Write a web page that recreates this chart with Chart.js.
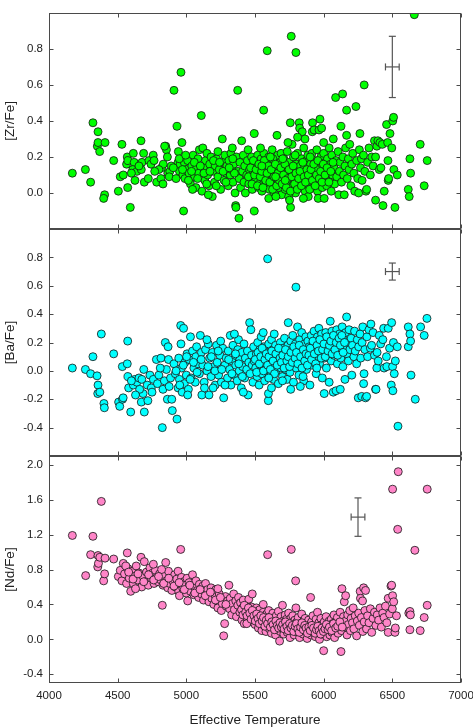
<!DOCTYPE html>
<html>
<head>
<meta charset="utf-8">
<title>[X/Fe] vs effective temperature</title>
<script src="https://cdn.jsdelivr.net/npm/chart.js@4.4.1/dist/chart.umd.min.js"></script>
<style>
  html, body { margin: 0; padding: 0; background: #fff; overflow: hidden; }
  #wrap { position: relative; width: 473px; height: 727px; overflow: hidden; }
  canvas { position: absolute; left: 0; top: 0; }
</style>
</head>
<body>
<div id="wrap">
  <canvas id="zr-chart" width="480" height="727"></canvas>
  <canvas id="ba-chart" width="480" height="727"></canvas>
  <canvas id="nd-chart" width="480" height="727"></canvas>
</div>
<script>
const teffTicks = [4000, 4500, 5000, 5500, 6000, 6500, 7000];
const zrTicks = [0.0, 0.2, 0.4, 0.6, 0.8];
const baTicks = [-0.4, -0.2, 0.0, 0.2, 0.4, 0.6, 0.8];
const ndTicks = [-0.4, 0.0, 0.4, 0.8, 1.2, 1.6, 2.0];

// typical uncertainty: [teff, value, +-teff, +-value]
const zrError = [6500, 0.70, 50, 0.17];
const baError = [6500, 0.70, 50, 0.06];
const ndError = [6250, 1.40, 50, 0.22];

// [Teff, abundance]
const zrStars = [
  [4170,0.11],[4265,0.13],[4303,0.06],[4320,0.39],[4357,0.34],[4352,0.26],[4357,0.28],[4369,0.23],[4408,0.28],[4405,-0.01],
  [4398,-0.03],[4471,0.18],[4505,0.01],[4519,0.09],[4541,0.10],[4531,0.27],[4570,0.20],[4565,0.16],[4575,0.18],[4573,0.03],
  [4592,-0.08],[4614,0.22],[4620,0.17],[4626,0.07],[4610,0.13],[4640,0.12],[4670,0.29],[4677,0.17],[4672,0.13],[4689,0.22],
  [4694,0.06],[4655,0.15],[4600,0.11],[4723,0.08],[4728,0.18],[4743,0.16],[4759,0.21],[4765,0.18],[4784,0.06],[4815,0.08],
  [4820,0.14],[4830,0.05],[4832,0.16],[4850,0.26],[4855,0.24],[4862,0.20],[4865,0.11],[4842,0.26],[4880,0.12],[4890,0.15],
  [4875,0.09],[4800,0.13],[4770,0.12],[4910,0.57],[4932,0.37],[4961,0.67],[4968,0.28],[4980,-0.10],[4942,0.23],[4940,0.17],
  [4950,0.12],[4955,0.16],[4975,0.10],[4985,0.17],[4990,0.08],[5000,0.13],[5010,0.18],[5020,0.11],[5030,0.05],[5040,0.15],
  [5050,0.21],[5060,0.09],[5070,0.03],[5075,0.14],[5085,0.19],[5090,0.11],[5095,0.24],[5045,0.02],[5109,0.43],[5114,0.01],
  [5120,0.25],[5125,0.14],[5135,0.07],[5140,0.18],[5150,0.22],[5155,0.10],[5165,0.04],[5170,0.16],[5180,0.20],[5189,-0.02],
  [5195,0.12],[5205,0.06],[5210,0.15],[5220,0.19],[5230,0.09],[5240,0.13],[5250,0.02],[5262,0.30],[5265,0.17],[5275,0.07],
  [5280,0.21],[5290,0.11],[5295,0.15],[5230,0.23],[5160,-0.01],[5305,0.04],[5310,0.18],[5320,0.10],[5325,0.22],[5330,0.13],
  [5340,0.06],[5345,0.16],[5355,0.00],[5359,-0.07],[5361,-0.08],[5365,0.20],[5374,0.57],[5378,0.12],[5383,-0.14],[5385,0.08],
  [5390,0.17],[5395,0.03],[5403,0.29],[5410,0.12],[5415,0.21],[5420,0.06],[5425,0.15],[5430,0.00],[5440,0.10],[5445,0.18],
  [5450,0.24],[5455,0.05],[5460,0.13],[5470,0.09],[5475,0.20],[5480,0.02],[5485,0.15],[5495,-0.10],[5495,0.33],[5490,0.11],
  [5350,0.11],[5335,0.25],[5505,0.07],[5510,0.17],[5515,0.12],[5520,0.21],[5525,0.03],[5530,0.10],[5535,0.15],[5540,0.06],
  [5545,0.19],[5550,0.01],[5555,0.12],[5560,0.08],[5563,0.46],[5565,0.22],[5570,0.14],[5575,0.04],[5580,0.10],[5585,0.17],
  [5589,0.79],[5590,0.07],[5595,0.13],[5600,0.20],[5605,0.02],[5610,0.11],[5615,0.16],[5620,0.06],[5625,0.24],[5630,0.09],
  [5635,0.14],[5640,0.00],[5645,0.18],[5650,0.05],[5655,0.12],[5660,0.32],[5660,0.08],[5665,0.21],[5670,0.15],[5675,0.03],
  [5680,0.10],[5685,0.17],[5690,0.07],[5695,-0.01],[5700,0.13],[5540,0.25],[5600,-0.03],[5630,0.19],[5690,0.22],[5705,0.05],
  [5710,0.19],[5715,0.11],[5720,0.02],[5725,0.15],[5730,0.08],[5735,0.23],[5740,0.12],[5745,-0.02],[5750,0.17],[5755,0.06],
  [5757,0.39],[5759,-0.08],[5760,0.10],[5764,0.87],[5765,0.14],[5770,0.27],[5775,0.04],[5780,0.20],[5785,0.09],[5790,0.13],
  [5795,0.00],[5798,0.78],[5800,0.16],[5805,0.07],[5810,0.22],[5815,0.11],[5820,0.03],[5822,0.39],[5825,0.36],[5830,0.15],
  [5835,0.08],[5840,0.19],[5844,0.34],[5845,0.12],[5850,0.05],[5855,0.25],[5860,0.14],[5864,0.30],[5865,0.01],[5870,0.10],
  [5875,0.18],[5880,0.07],[5885,0.21],[5888,-0.02],[5890,0.13],[5895,0.04],[5740,0.28],[5810,0.31],[5905,0.16],[5910,0.09],
  [5915,0.22],[5917,0.34],[5919,0.39],[5920,0.03],[5925,0.12],[5930,0.35],[5935,0.18],[5940,0.07],[5945,0.14],[5950,0.24],
  [5955,0.01],[5960,-0.03],[5962,0.10],[5966,0.35],[5970,0.17],[5973,0.41],[5975,0.06],[5980,0.20],[5985,0.36],[5987,0.12],
  [5990,0.03],[5995,0.15],[6000,0.22],[6004,-0.03],[6008,0.08],[6012,0.17],[6018,0.11],[6022,0.04],[6028,0.19],[6035,0.13],
  [6040,0.25],[6045,0.07],[6050,0.16],[6055,0.01],[6060,0.21],[6065,0.10],[6070,0.30],[6075,0.14],[6080,0.05],[6087,0.53],
  [6090,0.18],[6095,0.09],[6000,0.28],[6105,0.23],[6110,-0.01],[6115,0.12],[6120,0.17],[6126,0.37],[6130,0.06],[6138,0.55],
  [6140,0.20],[6145,0.10],[6150,-0.01],[6155,0.15],[6160,0.25],[6167,0.46],[6167,0.32],[6172,0.08],[6180,0.19],[6185,0.13],
  [6190,0.27],[6198,0.04],[6205,0.16],[6212,0.22],[6220,0.11],[6226,0.01],[6235,0.48],[6240,0.18],[6248,0.08],[6255,0.00],
  [6260,0.24],[6264,0.33],[6268,0.14],[6275,0.19],[6280,0.07],[6290,0.21],[6295,0.60],[6300,0.12],[6308,0.01],[6313,0.02],
  [6320,0.17],[6330,0.25],[6340,0.10],[6350,0.20],[6360,0.15],[6370,0.29],[6378,0.20],[6378,-0.04],[6387,0.26],[6395,0.29],
  [6405,0.13],[6410,0.28],[6417,0.14],[6427,0.27],[6432,-0.07],[6441,0.01],[6458,0.38],[6466,0.28],[6468,0.18],[6470,0.07],
  [6473,0.08],[6483,0.33],[6496,0.25],[6503,0.40],[6509,0.42],[6511,0.13],[6519,-0.08],[6536,0.10],[6616,0.02],[6623,-0.02],
  [6628,0.19],[6633,0.11],[6660,0.99],[6703,0.27],[6732,0.04],[6754,0.18],
  [4905,0.14],[4925,0.08],[4948,0.19],[4972,0.13],[4995,0.21],[5015,0.07],[5038,0.12],[5058,0.17],[5082,0.08],[5102,0.15],
  [5128,0.11],[5148,0.05],[5172,0.12],[5198,0.18],[5218,0.04],[5242,0.17],[5268,0.12],[5288,0.06],[5312,0.14],[5338,0.19],
  [5452,0.09],[5468,0.14],[5478,0.05],[5488,0.18],[5498,0.10],[5508,0.13],[5518,0.04],[5528,0.16],[5538,0.09],[5548,0.12],
  [5558,0.03],[5568,0.18],[5578,0.07],[5588,0.11],[5598,0.15],[5608,0.06],[5618,0.13],[5628,0.02],[5638,0.09],[5648,0.16],
  [5658,0.04],[5668,0.11],[5678,0.07],[5688,0.14],[5698,0.05],[5708,0.10],[5718,0.16],[5728,0.03],[5738,0.08],[5748,0.13],
  [5758,0.01],[5768,0.09],[5778,0.15],[5788,0.05],[5798,0.11],[5808,0.02],[5818,0.08],[5828,0.12],[5838,0.04],[5848,0.17],
  [5858,0.09],[5868,0.06],[5878,0.13],[5888,0.10],[5898,0.02],[5908,0.13],[5918,0.07],[5928,0.16],[5938,0.04],[5948,0.10],
  [5958,0.18],[5968,0.08],[5978,0.12],[5988,0.06],[5998,0.16],[6010,0.10],[6025,0.14],[6038,0.06],[6052,0.12],[6068,0.17],
  [5612,0.20],[5652,-0.02],[5702,0.19],[5752,-0.04],[5792,0.21],[5852,-0.03],[5902,0.20],[5550,0.15],[5650,0.09],[5720,0.07]
];

const baStars = [
  [4170,0.02],[4265,0.01],[4303,-0.02],[4320,0.10],[4350,-0.035],[4357,-0.10],[4355,-0.16],[4370,-0.15],[4381,0.26],[4400,-0.23],
  [4403,-0.26],[4471,0.12],[4507,-0.22],[4515,-0.25],[4534,0.03],[4535,-0.20],[4540,-0.19],[4573,0.21],[4570,0.05],[4575,-0.04],
  [4580,-0.12],[4595,-0.29],[4614,-0.10],[4625,-0.06],[4640,-0.08],[4655,-0.05],[4672,-0.22],[4676,-0.06],[4690,0.01],[4694,-0.29],
  [4685,-0.16],[4660,-0.13],[4600,-0.07],[4630,-0.17],[4715,-0.10],[4720,-0.21],[4735,-0.03],[4745,-0.12],[4760,-0.06],[4782,0.08],
  [4790,-0.09],[4800,-0.03],[4815,0.09],[4825,-0.40],[4830,-0.13],[4840,-0.07],[4847,0.20],[4855,0.01],[4862,-0.20],[4867,0.17],
  [4870,0.08],[4875,-0.11],[4885,-0.05],[4894,-0.20],[4898,-0.28],[4750,-0.15],[4810,0.02],[4910,0.05],[4920,-0.02],[4932,-0.34],
  [4940,-0.12],[4945,0.09],[4950,-0.06],[4959,0.32],[4961,0.19],[4965,0.02],[4970,-0.15],[4980,0.30],[4985,-0.09],[4990,0.06],
  [5000,-0.03],[5005,0.12],[5015,-0.13],[5020,0.08],[5030,0.24],[5035,-0.05],[5045,0.14],[5055,0.02],[5065,-0.08],[5075,0.17],
  [5085,0.05],[5095,-0.02],[5102,0.25],[5070,0.10],[5010,-0.17],[5110,0.13],[5113,-0.17],[5120,0.04],[5130,-0.08],[5140,0.15],
  [5150,0.00],[5160,0.19],[5165,-0.17],[5170,0.09],[5180,-0.04],[5190,0.13],[5200,0.03],[5210,-0.10],[5220,0.18],[5225,0.06],
  [5235,-0.03],[5245,0.11],[5255,-0.08],[5265,0.16],[5272,-0.19],[5280,0.04],[5290,0.09],[5300,-0.05],[5320,0.25],[5150,0.22],
  [5250,0.21],[5195,-0.12],[5305,0.14],[5315,0.01],[5325,-0.10],[5330,0.07],[5340,0.18],[5345,-0.03],[5355,0.11],[5360,0.04],
  [5370,-0.07],[5375,0.15],[5380,0.22],[5385,0.00],[5390,0.08],[5400,-0.12],[5405,0.13],[5410,0.03],[5420,0.19],[5425,-0.05],
  [5430,0.09],[5440,0.01],[5445,0.14],[5450,-0.17],[5455,0.06],[5461,0.34],[5465,-0.02],[5470,0.29],[5475,0.11],[5480,0.04],
  [5485,-0.08],[5490,0.17],[5495,0.07],[5350,0.26],[5415,-0.15],[5505,0.02],[5510,0.12],[5515,-0.04],[5520,0.20],[5525,0.08],
  [5530,-0.10],[5535,0.15],[5540,0.04],[5545,0.24],[5550,-0.02],[5555,0.10],[5560,0.06],[5565,0.17],[5570,-0.07],[5575,0.13],
  [5580,0.01],[5585,0.09],[5592,0.79],[5597,-0.21],[5598,-0.16],[5600,0.19],[5605,0.05],[5610,0.12],[5615,-0.03],[5620,0.22],
  [5625,0.08],[5630,0.15],[5635,-0.06],[5640,0.03],[5645,0.11],[5650,0.18],[5655,0.00],[5660,0.07],[5665,0.14],[5670,-0.09],
  [5675,0.10],[5680,0.05],[5685,0.20],[5690,0.02],[5695,0.12],[5700,-0.04],[5560,0.27],[5640,0.26],[5620,-0.12],[5705,0.16],
  [5710,0.06],[5715,0.23],[5720,0.01],[5725,0.12],[5730,0.09],[5735,-0.06],[5740,0.18],[5742,0.34],[5745,0.04],[5750,0.14],
  [5755,-0.01],[5760,0.21],[5765,0.08],[5770,0.11],[5775,0.25],[5780,-0.08],[5785,0.15],[5790,0.05],[5795,0.19],[5798,0.59],
  [5800,0.02],[5805,0.10],[5810,0.31],[5815,0.13],[5820,-0.03],[5825,0.22],[5830,0.07],[5835,0.16],[5840,0.27],[5845,0.04],
  [5850,0.12],[5855,-0.07],[5860,0.19],[5865,0.09],[5870,0.24],[5875,0.01],[5880,0.14],[5885,0.21],[5890,0.06],[5895,0.17],
  [5900,-0.10],[5760,-0.13],[5830,-0.11],[5905,0.11],[5910,0.25],[5915,0.04],[5920,0.18],[5925,0.13],[5930,0.28],[5935,0.08],
  [5940,0.21],[5945,-0.02],[5950,0.15],[5955,0.24],[5960,0.10],[5965,0.30],[5970,0.05],[5975,0.18],[5980,0.13],[5985,0.26],
  [5990,-0.05],[5995,0.20],[6004,-0.16],[6005,0.09],[6010,0.15],[6015,0.27],[6020,0.02],[6025,0.19],[6030,0.12],[6035,0.23],
  [6040,-0.08],[6048,0.35],[6050,0.16],[6055,0.07],[6060,0.28],[6065,0.20],[6070,-0.15],[6075,0.11],[6080,0.24],[6085,0.17],
  [6090,-0.14],[6095,0.29],[6100,0.05],[6105,0.21],[6110,0.14],[6115,0.26],[6121,-0.13],[6125,0.09],[6130,0.19],[6135,0.31],
  [6140,0.03],[6145,0.22],[6150,0.16],[6155,-0.06],[6160,0.27],[6167,0.38],[6170,0.12],[6175,0.20],[6180,0.07],[6185,0.29],
  [6190,0.15],[6200,0.23],[6205,-0.03],[6210,0.18],[6220,0.10],[6225,0.28],[6230,0.14],[6240,0.05],[6245,0.22],[6252,-0.19],
  [6255,0.17],[6265,0.26],[6270,0.09],[6277,-0.18],[6280,0.20],[6285,0.31],[6291,-0.09],[6294,-0.02],[6300,0.15],[6305,-0.19],
  [6313,-0.18],[6315,0.24],[6320,0.10],[6330,0.29],[6340,0.16],[6344,0.33],[6349,0.18],[6360,0.27],[6370,0.11],[6378,-0.13],
  [6381,-0.13],[6387,0.02],[6389,0.13],[6397,0.07],[6405,0.25],[6415,0.19],[6431,0.22],[6437,0.30],[6440,0.02],[6457,0.10],
  [6460,0.03],[6470,0.30],[6480,0.16],[6492,-0.10],[6495,0.34],[6502,0.03],[6504,-0.14],[6508,0.20],[6514,-0.02],[6522,0.07],
  [6536,0.17],[6541,-0.39],[6616,0.31],[6616,0.17],[6628,0.26],[6633,0.21],[6636,-0.03],[6667,-0.20],[6706,0.31],[6732,0.25],
  [6752,0.37],
  [4925,0.00],[4952,-0.10],[4978,0.04],[5002,0.10],[5028,-0.06],[5052,0.06],[5078,-0.01],[5108,0.08],[5132,-0.12],[5158,0.03],
  [5182,0.10],[5208,0.00],[5232,0.14],[5258,0.01],[5282,-0.10],[5308,0.08],[5332,-0.02],[5358,0.12],[5382,0.05],[5408,-0.04],
  [5502,0.08],[5512,-0.01],[5522,0.13],[5532,0.05],[5542,0.10],[5552,0.16],[5562,0.00],[5572,0.08],[5582,0.12],[5592,0.04],
  [5602,0.10],[5612,0.01],[5622,0.14],[5632,0.07],[5642,-0.02],[5652,0.12],[5662,0.04],[5672,0.16],[5682,0.09],[5692,0.06],
  [5702,0.11],[5712,0.02],[5722,0.15],[5732,0.07],[5742,0.10],[5752,0.03],[5762,0.13],[5772,0.06],[5782,0.17],[5792,0.09],
  [5802,0.13],[5812,0.05],[5822,0.18],[5832,0.10],[5842,0.02],[5852,0.15],[5862,0.07],[5872,0.12],[5882,0.04],[5892,0.11],
  [5902,0.16],[5912,0.08],[5922,0.21],[5932,0.12],[5942,0.05],[5952,0.18],[5962,0.14],[5972,0.22],[5982,0.09],[5992,0.15],
  [6002,0.19],[6012,0.10],[6022,0.24],[6032,0.14],[6042,0.18],[6052,0.21],[6062,0.12],[6072,0.25],[6082,0.15],[6092,0.20],
  [6102,0.11],[6112,0.23],[6122,0.18],[6132,0.25],[6142,0.13],[6152,0.20],[5600,-0.05],[5700,-0.07],[5850,-0.04],[5950,0.02]
];

const ndStars = [
  [4170,1.19],[4267,0.73],[4303,0.97],[4320,1.18],[4355,0.83],[4357,0.96],[4360,0.87],[4370,0.94],[4381,1.58],[4398,0.67],
  [4405,0.75],[4408,0.93],[4471,0.92],[4505,0.72],[4519,0.79],[4531,0.67],[4541,0.87],[4550,0.75],[4565,0.64],[4570,0.99],
  [4575,0.81],[4585,0.70],[4595,0.55],[4605,0.78],[4614,0.64],[4620,0.72],[4635,0.84],[4645,0.68],[4655,0.76],[4670,0.94],
  [4675,0.60],[4685,0.72],[4694,0.89],[4700,0.66],[4560,0.84],[4630,0.58],[4710,0.77],[4723,0.62],[4735,0.82],[4745,0.70],
  [4755,0.76],[4765,0.64],[4775,0.79],[4785,0.71],[4795,0.66],[4805,0.75],[4815,0.68],[4825,0.39],[4830,0.62],[4840,0.73],
  [4850,0.88],[4855,0.67],[4865,0.59],[4870,0.78],[4880,0.64],[4890,0.70],[4895,0.56],[4760,0.86],[4820,0.80],[4905,0.66],
  [4915,0.74],[4920,0.60],[4930,0.69],[4940,0.78],[4945,0.55],[4950,0.50],[4955,0.64],[4959,1.03],[4965,0.71],[4975,0.58],
  [4980,0.66],[4990,0.62],[5000,0.53],[5005,0.70],[5015,0.59],[5020,0.65],[5030,0.55],[5040,0.62],[5045,0.74],[5055,0.51],
  [5060,0.60],[5070,0.67],[5080,0.56],[5090,0.48],[5095,0.63],[5010,0.44],[5105,0.58],[5110,0.52],[5120,0.61],[5125,0.45],
  [5135,0.55],[5140,0.64],[5150,0.49],[5155,0.57],[5165,0.43],[5170,0.52],[5180,0.59],[5185,0.47],[5195,0.54],[5200,0.40],
  [5210,0.50],[5215,0.57],[5225,0.44],[5230,0.36],[5240,0.52],[5250,0.47],[5255,0.33],[5262,0.41],[5272,0.04],[5279,0.18],
  [5285,0.49],[5290,0.38],[5300,0.44],[5310,0.62],[5230,0.58],[5315,0.35],[5320,0.47],[5330,0.28],[5335,0.41],[5345,0.52],
  [5350,0.34],[5360,0.44],[5365,0.26],[5375,0.39],[5380,0.48],[5390,0.31],[5395,0.42],[5405,0.22],[5410,0.36],[5415,0.45],
  [5422,0.18],[5425,0.30],[5435,0.38],[5440,0.25],[5450,0.33],[5455,0.46],[5460,0.20],[5470,0.29],[5475,0.37],[5480,0.52],
  [5485,0.24],[5495,0.32],[5500,0.17],[5440,0.18],[5505,0.27],[5510,0.36],[5515,0.21],[5520,0.30],[5525,0.13],[5530,0.25],
  [5535,0.34],[5540,0.19],[5545,0.28],[5550,0.10],[5555,0.23],[5560,0.31],[5565,0.16],[5570,0.26],[5575,0.20],[5580,0.09],
  [5585,0.29],[5590,0.15],[5592,0.97],[5595,0.22],[5600,0.33],[5605,0.12],[5610,0.19],[5615,0.26],[5620,0.07],[5625,0.21],
  [5630,0.30],[5635,0.14],[5640,0.24],[5645,0.18],[5650,0.05],[5655,0.27],[5660,0.11],[5665,0.20],[5670,0.32],[5675,0.15],
  [5679,-0.02],[5682,0.22],[5685,0.09],[5690,0.26],[5695,0.17],[5700,0.12],[5560,0.40],[5700,0.39],[5705,0.21],[5710,0.06],
  [5715,0.18],[5720,0.28],[5725,0.13],[5730,0.23],[5735,0.08],[5740,0.19],[5745,0.30],[5750,0.14],[5755,0.02],[5760,0.24],
  [5764,1.03],[5765,0.16],[5770,0.10],[5775,0.27],[5780,0.19],[5785,0.05],[5790,0.22],[5796,0.67],[5798,0.36],[5800,0.13],
  [5805,0.20],[5810,0.08],[5815,0.25],[5820,0.15],[5825,0.02],[5830,0.18],[5835,0.11],[5840,0.29],[5845,0.16],[5850,0.06],
  [5855,0.21],[5860,0.13],[5865,0.24],[5870,0.09],[5875,0.18],[5880,0.01],[5885,0.15],[5890,0.22],[5895,0.10],[5900,0.17],
  [5905,0.48],[5908,0.05],[5912,0.20],[5918,0.12],[5922,0.27],[5928,0.08],[5935,0.17],[5940,0.03],[5945,0.23],[5950,0.14],
  [5955,0.31],[5960,0.09],[5965,0.19],[5970,0.00],[5975,0.13],[5980,0.24],[5985,0.06],[5990,0.17],[5995,0.11],[6000,-0.13],
  [6004,0.20],[6008,0.07],[6012,0.14],[6018,0.26],[6022,0.03],[6028,0.16],[6035,0.10],[6040,0.21],[6045,0.05],[6050,0.15],
  [6055,0.23],[6060,0.08],[6065,0.18],[6070,0.12],[6075,0.28],[6080,0.02],[6085,0.19],[6090,0.11],[6095,0.16],[6100,0.25],
  [6105,0.07],[6110,0.18],[6115,0.13],[6120,0.31],[6126,-0.14],[6130,0.10],[6133,0.58],[6138,0.20],[6145,0.26],[6150,0.43],
  [6155,0.14],[6160,0.50],[6165,0.22],[6170,0.05],[6175,0.28],[6180,0.17],[6190,0.33],[6195,0.10],[6200,0.24],[6210,0.19],
  [6215,0.36],[6220,0.12],[6230,0.27],[6240,0.04],[6245,0.21],[6255,0.30],[6260,0.16],[6266,0.55],[6268,0.47],[6275,0.25],
  [6283,0.44],[6285,0.09],[6291,0.59],[6295,0.20],[6300,0.33],[6305,0.56],[6312,0.12],[6320,0.27],[6330,0.19],[6340,0.35],
  [6350,0.08],[6360,0.24],[6370,0.31],[6380,0.16],[6390,0.28],[6400,0.22],[6410,0.36],[6420,0.14],[6430,0.30],[6440,0.25],
  [6450,0.38],[6460,0.19],[6470,0.47],[6470,0.08],[6480,0.29],[6490,0.61],[6495,0.62],[6500,0.35],[6502,0.50],[6502,1.72],
  [6510,0.43],[6519,0.08],[6522,0.13],[6530,0.27],[6539,1.26],[6543,1.92],[6620,0.30],[6628,0.32],[6632,0.28],[6628,0.11],
  [6664,1.02],[6703,0.10],[6732,0.25],[6754,0.39],[6754,1.72],
  [4580,0.77],[4612,0.69],[4648,0.75],[4690,0.66],[4725,0.74],[4762,0.68],[4798,0.72],[4835,0.64],[4872,0.70],[4910,0.61],
  [4948,0.65],[4985,0.57],[5025,0.62],[5062,0.53],[5100,0.57],[5138,0.50],[5175,0.54],[5212,0.45],[5248,0.48],[5288,0.40],
  [5402,0.34],[5412,0.28],[5422,0.39],[5432,0.31],[5442,0.27],[5452,0.36],[5462,0.30],[5472,0.23],[5482,0.33],[5492,0.27],
  [5502,0.21],[5512,0.29],[5522,0.24],[5532,0.18],[5542,0.27],[5552,0.21],[5562,0.25],[5572,0.15],[5582,0.22],[5592,0.18],
  [5602,0.25],[5612,0.14],[5622,0.20],[5632,0.17],[5642,0.11],[5652,0.21],[5662,0.16],[5672,0.13],[5682,0.19],[5692,0.14],
  [5702,0.17],[5712,0.12],[5722,0.20],[5732,0.15],[5742,0.10],[5752,0.18],[5762,0.13],[5772,0.16],[5782,0.09],[5792,0.15],
  [5802,0.18],[5812,0.12],[5822,0.08],[5832,0.14],[5842,0.19],[5852,0.11],[5862,0.16],[5872,0.13],[5882,0.07],[5892,0.14],
  [5902,0.10],[5914,0.16],[5926,0.13],[5938,0.07],[5948,0.11],[5958,0.15],[5968,0.10],[5978,0.06],[5988,0.13],[5998,0.09],
  [6010,0.12],[6020,0.17],[6032,0.11],[6042,0.14],[6058,0.10],[6072,0.18],[6088,0.13],[6102,0.15],[6118,0.20],[6135,0.14]
];

const CANVAS_W = 480, CANVAS_H = 727;
const PLOT_LEFT = 49, PLOT_RIGHT = 461;

const panels = [
  { id: 'zr-chart', title: '[Zr/Fe]', stars: zrStars, color: '#00ff00', min: -0.2, max: 1.0, ticks: zrTicks, err: zrError, top: 3, bottom: 229, showX: false },
  { id: 'ba-chart', title: '[Ba/Fe]', stars: baStars, color: '#00ffff', min: -0.6, max: 1.0, ticks: baTicks, err: baError, top: 229, bottom: 456, showX: false },
  { id: 'nd-chart', title: '[Nd/Fe]', stars: ndStars, color: '#ff85c8', min: -0.5, max: 2.1, ticks: ndTicks, err: ndError, top: 456, bottom: 683, showX: true }
];

// frame, inward tick marks and the error cross
const framePlugin = {
  id: 'frame',
  afterDatasetsDraw(chart, args, opts) {
    const { ctx, chartArea: a, scales: { x, y } } = chart;
    const seg = (x1, y1, x2, y2) => { ctx.beginPath(); ctx.moveTo(x1, y1); ctx.lineTo(x2, y2); ctx.stroke(); };
    const L = Math.round(a.left) + 0.5, R = Math.round(a.right) - 0.5;
    const T = Math.round(a.top) + 0.5, B = Math.round(a.bottom) - 0.5;
    ctx.save();

    const [t, v, dt, dv] = opts.err;
    const cx = x.getPixelForValue(t), cy = y.getPixelForValue(v);
    const xl = x.getPixelForValue(t - dt), xr = x.getPixelForValue(t + dt);
    const yh = y.getPixelForValue(v + dv), yl = y.getPixelForValue(v - dv);
    ctx.strokeStyle = '#555';
    ctx.lineWidth = 1.2;
    seg(xl, cy, xr, cy);
    seg(cx, yh, cx, yl);
    seg(xl, cy - 3.5, xl, cy + 3.5);
    seg(xr, cy - 3.5, xr, cy + 3.5);
    seg(cx - 3.5, yh, cx + 3.5, yh);
    seg(cx - 3.5, yl, cx + 3.5, yl);

    ctx.strokeStyle = '#4a4a4a';
    ctx.lineWidth = 1;
    ctx.strokeRect(L, T, R - L, B - T);
    teffTicks.forEach(tk => {
      const px = Math.round(x.getPixelForValue(tk)) + 0.5;
      seg(px, T, px, T + 4);
      seg(px, B, px, B - 4);
    });
    opts.ticks.forEach(tk => {
      const py = Math.round(y.getPixelForValue(tk)) + 0.5;
      seg(L, py, L + 4, py);
      seg(R, py, R - 4, py);
    });
    ctx.restore();
  }
};

Chart.defaults.font.family = '"Liberation Sans", Arial, sans-serif';
Chart.defaults.font.size = 11.5;
Chart.defaults.color = '#222';

panels.forEach(p => {
  const ctx = document.getElementById(p.id).getContext('2d');
  new Chart(ctx, {
    type: 'scatter',
    data: {
      datasets: [{
        data: p.stars.map(([t, v]) => ({ x: t, y: v })),
        pointRadius: 4,
        pointHoverRadius: 4,
        pointBorderWidth: 0.8,
        pointBorderColor: '#151515',
        pointBackgroundColor: p.color
      }]
    },
    options: {
      responsive: false,
      animation: false,
      events: [],
      layout: {
        padding: {
          left: 0,
          right: CANVAS_W - PLOT_RIGHT,
          top: p.top,
          bottom: p.showX ? 0 : CANVAS_H - p.bottom
        }
      },
      plugins: {
        legend: { display: false },
        tooltip: { enabled: false },
        frame: { err: p.err, ticks: p.ticks }
      },
      scales: {
        x: {
          type: 'linear',
          min: 4000,
          max: 7000,
          display: p.showX,
          afterBuildTicks: s => { s.ticks = teffTicks.map(value => ({ value })); },
          afterFit: s => { s.height = p.showX ? CANVAS_H - p.bottom : 0; },
          grid: { display: false, drawTicks: false },
          border: { display: false },
          ticks: { padding: 6, maxRotation: 0, callback: v => String(v) },
          title: { display: true, text: 'Effective Temperature', font: { size: 13.5, lineHeight: 1 }, padding: 0 }
        },
        y: {
          type: 'linear',
          min: p.min,
          max: p.max,
          afterBuildTicks: s => { s.ticks = p.ticks.map(value => ({ value })); },
          afterFit: s => { s.width = PLOT_LEFT; },
          grid: { display: false, drawTicks: false },
          border: { display: false },
          ticks: { padding: 6, callback: v => v.toFixed(1) },
          title: { display: true, text: p.title, font: { size: 13.5 }, padding: { top: 2, bottom: 0 } }
        }
      }
    },
    plugins: [framePlugin]
  });
});
</script>
</body>
</html>
